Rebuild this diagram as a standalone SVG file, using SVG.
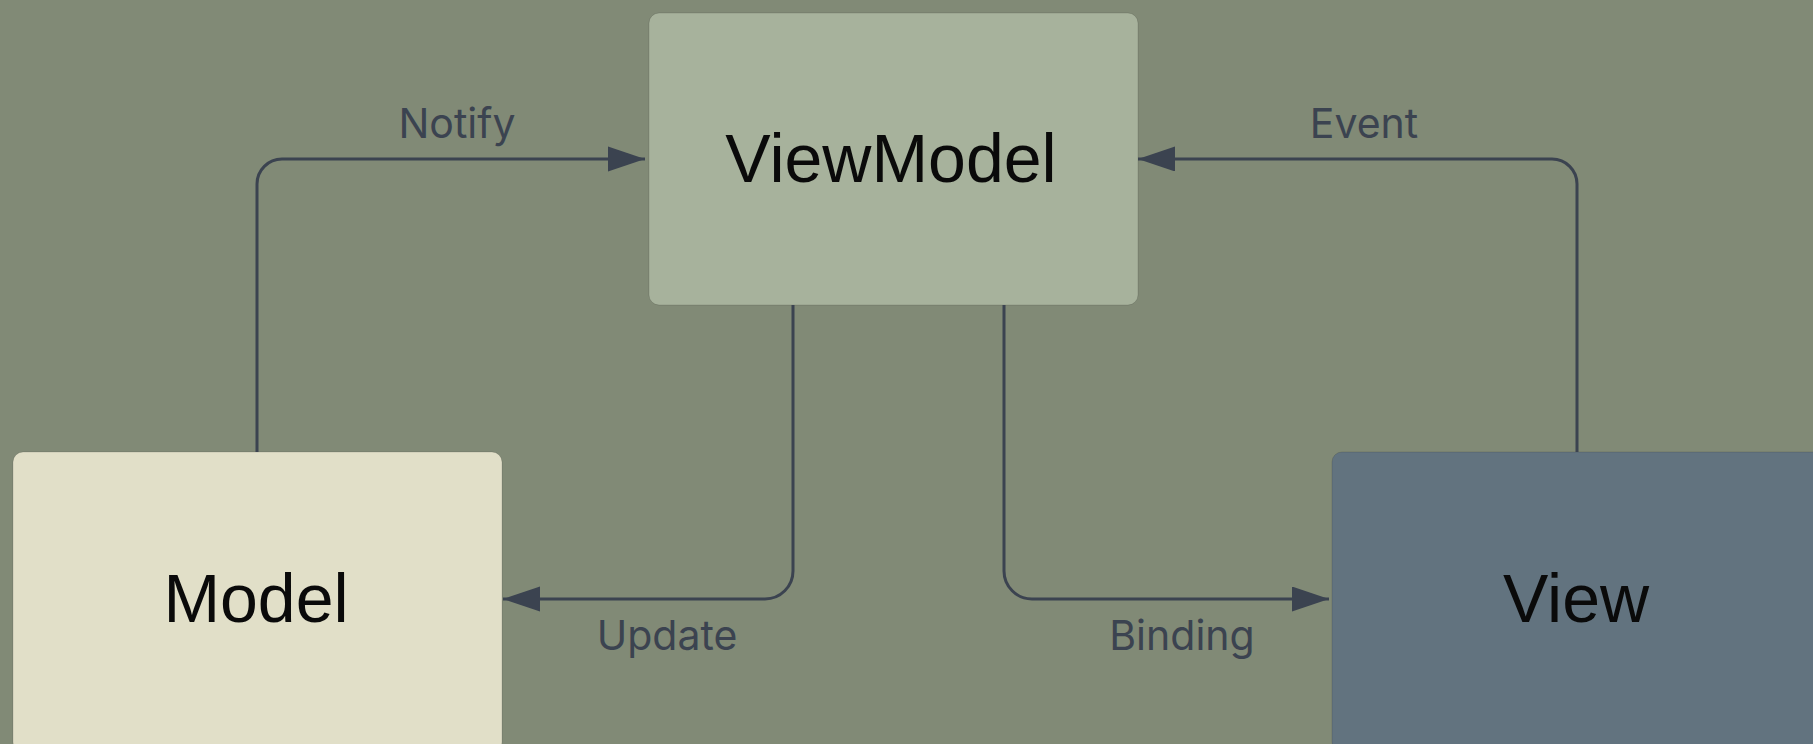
<svg xmlns="http://www.w3.org/2000/svg" width="1813" height="744" viewBox="0 0 1813 744">
  <style>
    .node-box { stroke: rgba(0,0,0,0.12); stroke-width: 1; }
    .node-text { font-family: "Liberation Sans", Arial, sans-serif; font-size: 68px; fill: #0a0a0a; text-anchor: middle; }
    .edge { fill: none; stroke: #3b4350; stroke-width: 3; marker-end: url(#arrow); }
    .edge-label { font-family: Inter, "Noto Sans", sans-serif; font-size: 41px; fill: #3b4350; text-anchor: middle; }
  </style>
  <defs>
    <marker id="arrow" markerUnits="userSpaceOnUse" markerWidth="38" markerHeight="26" refX="37" refY="12.5" orient="auto">
      <path d="M0,0 L37,12.5 L0,25 Z" fill="#3b4350"/>
    </marker>
  </defs>

  <rect width="1813" height="744" fill="#818a76"/>

  <g id="node-viewmodel">
    <rect class="node-box" x="649" y="13" width="489" height="292" rx="10" fill="#a7b29c"/>
    <text class="node-text" x="891" y="182">ViewModel</text>
  </g>

  <g id="node-model">
    <rect class="node-box" x="13" y="452" width="489" height="300" rx="10" fill="#e1dfc8"/>
    <text class="node-text" x="256" y="622">Model</text>
  </g>

  <g id="node-view">
    <rect class="node-box" x="1332" y="452" width="500" height="300" rx="10" fill="#62737f"/>
    <text class="node-text" x="1576" y="622">View</text>
  </g>

  <g id="connectors">
    <path class="edge" d="M257 452 V184 A25 25 0 0 1 282 159 H645"/>
    <text class="edge-label" x="457" y="138">Notify</text>

    <path class="edge" d="M1577 452 V184 A25 25 0 0 0 1552 159 H1138"/>
    <text class="edge-label" x="1364" y="138">Event</text>

    <path class="edge" d="M793 305 V571 A28 28 0 0 1 765 599 H503"/>
    <text class="edge-label" x="667" y="650">Update</text>

    <path class="edge" d="M1004 305 V571 A28 28 0 0 0 1032 599 H1329"/>
    <text class="edge-label" x="1182" y="650">Binding</text>
  </g>
</svg>
